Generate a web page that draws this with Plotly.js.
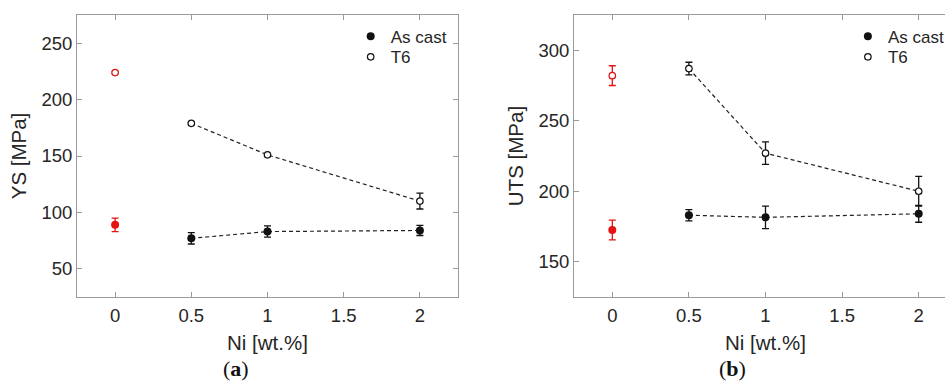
<!DOCTYPE html>
<html>
<head>
<meta charset="utf-8">
<script src="https://cdn.plot.ly/plotly-3.0.1.min.js"></script>
<style>html,body{margin:0;padding:0;overflow:hidden;background:#fff;}#chart{width:960px;height:385px;}</style>
</head>
<body>
<div id="chart"></div>
<script>
// Ni content [wt.%]
const niRef = [0];
const niAlloy = [0.5, 1, 2];

// (a) Yield strength [MPa]
const ysCastRef = [89];   const ysCastRefErr = [6];
const ysT6Ref = [224];    const ysT6RefErr = [1];
const ysCast = [77, 83, 84];   const ysCastErr = [5, 5, 4.5];
const ysT6 = [179, 151, 110];  const ysT6Err = [1, 1, 7];

// (b) Ultimate tensile strength [MPa]
const utsCastRef = [172.5]; const utsCastRefErr = [7];
const utsT6Ref = [282];     const utsT6RefErr = [7];
const utsCast = [183, 181.5, 184]; const utsCastErr = [4, 8, 6];
const utsT6 = [287, 227, 200];     const utsT6Err = [4.5, 8, 10.5];

const seriesNames = ['As cast', 'T6'];
const panelLabels = ['a', 'b'];

const RED = 'rgb(228,18,18)';
const BLK = '#111';
const txt = '#262626';

function dashed(x, y, xa, ya) {
  return {x: x, y: y, xaxis: xa, yaxis: ya, mode: 'lines', showlegend: false,
    line: {color: '#222', width: 1.2, dash: '4px,3px'}, hoverinfo: 'skip'};
}
function pts(x, y, err, xa, ya, filled, color, name, legend, show) {
  return {x: x, y: y, xaxis: xa, yaxis: ya, mode: 'markers', name: name,
    legend: legend, showlegend: show,
    error_y: {type: 'data', array: err, visible: true, color: color, thickness: 1.3, width: 3.5},
    marker: {symbol: 'circle', size: filled ? 8 : 6.5,
      color: filled ? color : '#fff',
      line: {color: color, width: filled ? 0 : 1.2}}};
}

const data = [
  dashed(niAlloy, ysT6, 'x', 'y'),
  dashed(niAlloy, ysCast, 'x', 'y'),
  pts(niAlloy, ysCast, ysCastErr, 'x', 'y', true, BLK, seriesNames[0], 'legend', true),
  pts(niAlloy, ysT6, ysT6Err, 'x', 'y', false, BLK, seriesNames[1], 'legend2', true),
  pts(niRef, ysCastRef, ysCastRefErr, 'x', 'y', true, RED, 'ref', 'legend', false),
  pts(niRef, ysT6Ref, ysT6RefErr, 'x', 'y', false, RED, 'ref', 'legend', false),

  dashed(niAlloy, utsT6, 'x2', 'y2'),
  dashed(niAlloy, utsCast, 'x2', 'y2'),
  pts(niAlloy, utsCast, utsCastErr, 'x2', 'y2', true, BLK, seriesNames[0], 'legend3', true),
  pts(niAlloy, utsT6, utsT6Err, 'x2', 'y2', false, BLK, seriesNames[1], 'legend4', true),
  pts(niRef, utsCastRef, utsCastRefErr, 'x2', 'y2', true, RED, 'ref', 'legend', false),
  pts(niRef, utsT6Ref, utsT6RefErr, 'x2', 'y2', false, RED, 'ref', 'legend', false)
];

const W = 960, H = 385;
const FONT = 'Liberation Sans, Arial, sans-serif';
const titleFont = {family: FONT, size: 20.5, color: txt};
const axBase = {
  showgrid: false, zeroline: false, showline: true, linecolor: '#9a9a9a', linewidth: 1,
  mirror: 'allticks', ticks: 'inside', ticklen: 5, tickcolor: '#9a9a9a', tickwidth: 1,
  tickfont: {family: FONT, size: 18.5, color: txt}
};
function ax(extra) { return Object.assign(JSON.parse(JSON.stringify(axBase)), extra); }

const legBase = {
  font: {family: FONT, size: 17, color: txt},
  bgcolor: 'rgba(0,0,0,0)', borderwidth: 0, xanchor: 'left', yanchor: 'middle',
  itemwidth: 30, tracegroupgap: 0
};
const row1 = (297 - 36.7) / 282, row2 = (297 - 57.3) / 282;

const layout = {
  width: W, height: H,
  margin: {l: 77, r: 3, t: 15, b: 88},
  paper_bgcolor: '#fff', plot_bgcolor: '#fff',
  xaxis: ax({domain: [0, 381 / 880], range: [-0.25, 2.25], dtick: 0.5, tick0: 0,
    ticklabelstandoff: 2,
    title: {text: 'Ni [wt.%]', standoff: 10, font: titleFont}, anchor: 'y'}),
  yaxis: ax({domain: [0, 1], range: [25, 275], dtick: 50, tick0: 0,
    title: {text: 'YS [MPa]', standoff: 9, font: titleFont}, anchor: 'x'}),
  xaxis2: ax({domain: [497 / 880, 1], range: [-0.25, 2.25], dtick: 0.5, tick0: 0,
    ticklabelstandoff: 2,
    title: {text: 'Ni [wt.%]', standoff: 10, font: titleFont}, anchor: 'y2'}),
  yaxis2: ax({domain: [0, 1], range: [125, 325], dtick: 50, tick0: 0,
    title: {text: 'UTS [MPa]', standoff: 9, font: titleFont}, anchor: 'x2'}),
  legend: Object.assign({}, legBase, {x: 0.311, y: row1}),
  legend2: Object.assign({}, legBase, {x: 0.311, y: row2}),
  legend3: Object.assign({}, legBase, {x: 0.876, y: row1}),
  legend4: Object.assign({}, legBase, {x: 0.876, y: row2}),
  annotations: [
    {text: '(<b>' + panelLabels[0] + '</b>)', xref: 'paper', yref: 'paper', x: 0.181, y: -0.255,
     xanchor: 'center', yanchor: 'middle', showarrow: false,
     font: {family: 'Liberation Serif, Times New Roman, serif', size: 22, color: '#111'}},
    {text: '(<b>' + panelLabels[1] + '</b>)', xref: 'paper', yref: 'paper', x: 0.745, y: -0.255,
     xanchor: 'center', yanchor: 'middle', showarrow: false,
     font: {family: 'Liberation Serif, Times New Roman, serif', size: 22, color: '#111'}}
  ]
};

Plotly.newPlot('chart', data, layout, {staticPlot: true, displayModeBar: false});
</script>
</body>
</html>
